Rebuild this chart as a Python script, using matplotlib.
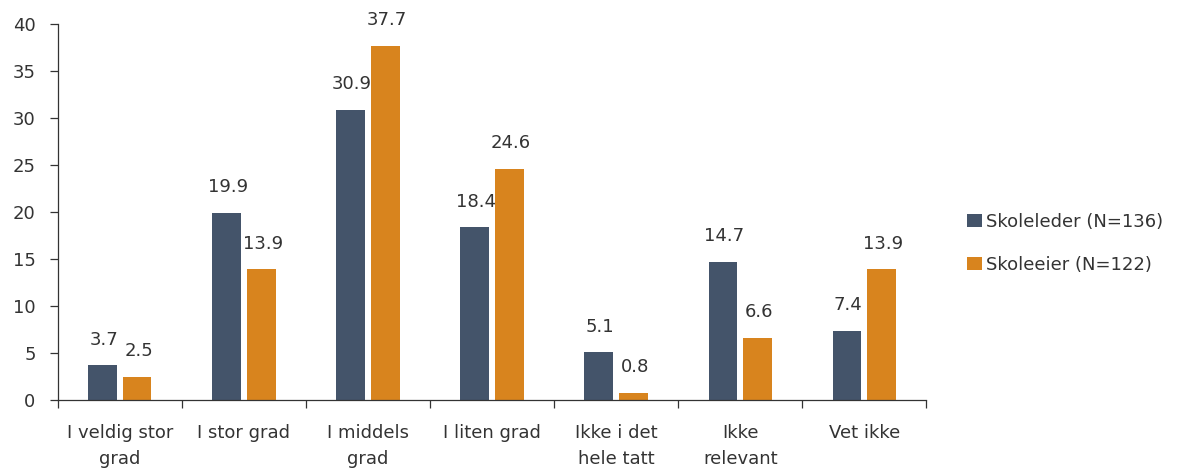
import matplotlib
matplotlib.use("Agg")
import matplotlib.pyplot as plt
import numpy as np

categories = ["I veldig stor\ngrad", "I stor grad", "I middels\ngrad", "I liten grad",
              "Ikke i det\nhele tatt", "Ikke\nrelevant", "Vet ikke"]
skoleleder = [3.7, 19.9, 30.9, 18.4, 5.1, 14.7, 7.4]
skoleeier = [2.5, 13.9, 37.7, 24.6, 0.8, 6.6, 13.9]
series_names = ["Skoleleder (N=136)", "Skoleeier (N=122)"]
yticks = [0, 5, 10, 15, 20, 25, 30, 35, 40]

plt.rcParams['font.family'] = ['DejaVu Sans']
text_color = "#333333"
fs = 13

fig = plt.figure(figsize=(11.8, 4.73), dpi=100)
ax = fig.add_axes([0.049, 0.154, 0.736, 0.795])

x = np.arange(len(categories))
w = 0.23
off = 0.14
c1 = "#44546A"
c2 = "#D8841E"
b1 = ax.bar(x - off, skoleleder, w, color=c1, label=series_names[0])
b2 = ax.bar(x + off, skoleeier, w, color=c2, label=series_names[1])

for bars, vals in ((b1, skoleleder), (b2, skoleeier)):
    for r, v in zip(bars, vals):
        ax.annotate(f"{v:.1f}", (r.get_x() + r.get_width() / 2, v),
                    xytext=(1, 12), textcoords="offset points",
                    ha="center", va="bottom", fontsize=fs, color=text_color)

ax.set_xlim(-0.5, len(categories) - 0.5)
ax.set_ylim(0, 40)
ax.set_yticks(yticks)
ax.tick_params(axis="y", labelsize=fs, colors=text_color, length=6, width=0.9, pad=10)
ax.set_xticks(np.arange(len(categories) + 1) - 0.5, minor=False)
ax.set_xticklabels([])
ax.set_xticks(x, minor=True)
ax.set_xticklabels(categories, minor=True, fontsize=fs, color=text_color, linespacing=1.6)
ax.tick_params(axis="x", which="major", length=6, width=0.9, color=text_color)
ax.tick_params(axis="x", which="minor", length=0, pad=17)
for s in ("top", "right"):
    ax.spines[s].set_visible(False)
for s in ("left", "bottom"):
    ax.spines[s].set_color(text_color)
    ax.spines[s].set_linewidth(0.9)

fig.legend(handles=[b1, b2], loc="center left", bbox_to_anchor=(967 / 1180, 1 - 243.5 / 473),
           frameon=False, fontsize=fs, handlelength=0.85, handleheight=0.7, borderpad=0,
           borderaxespad=0, handletextpad=0.2, labelspacing=1.4, labelcolor=text_color)

fig.savefig("out.png", dpi=100)
